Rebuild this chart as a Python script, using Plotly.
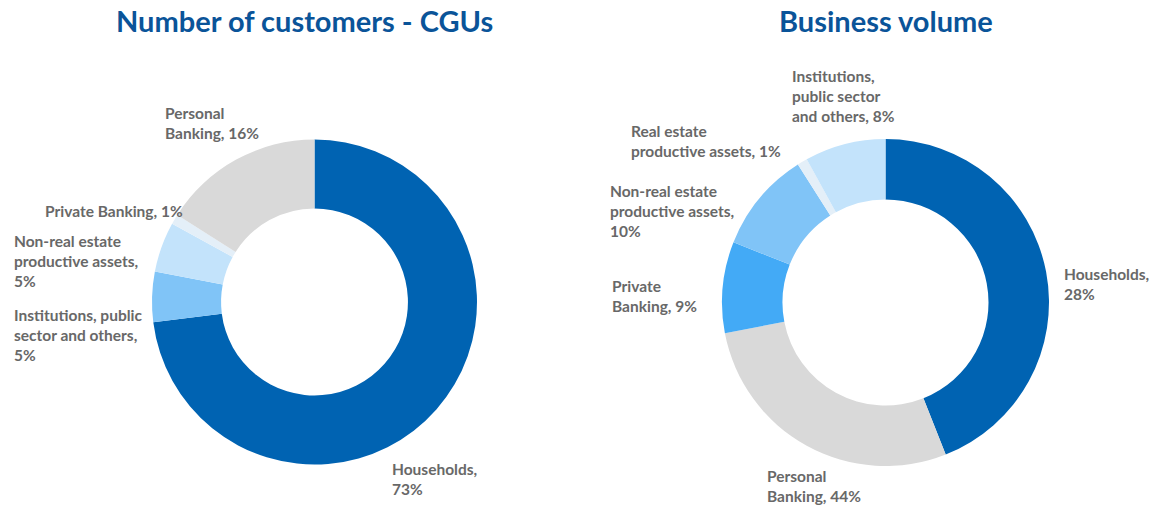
import plotly.graph_objects as go

# ---- Data ----
cust_labels = ["Households", "Institutions, public sector and others",
               "Non-real estate productive assets", "Private Banking", "Personal Banking"]
cust_values = [73, 5, 5, 1, 16]
cust_text = ["Households,<br>73%", "Institutions, public<br>sector and others,<br>5%",
             "Non-real estate<br>productive assets,<br>5%", "Private Banking, 1%",
             "Personal<br>Banking, 16%"]

vol_labels = ["Households", "Personal Banking", "Private Banking",
              "Non-real estate productive assets", "Real estate productive assets",
              "Institutions, public sector and others"]
vol_values = [44, 28, 9, 10, 1, 8]  # slice sizes as drawn
vol_text = ["Households,<br>28%", "Personal<br>Banking, 44%", "Private<br>Banking, 9%",
            "Non-real estate<br>productive assets,<br>10%", "Real estate<br>productive assets, 1%",
            "Institutions,<br>public sector<br>and others, 8%"]

titles = ["Number of customers - CGUs", "Business volume"]

# ---- Styles ----
cust_colors = ["#0063B2", "#80C4F7", "#C3E3FB", "#E4EFF8", "#D9D9D9"]
vol_colors = ["#0063B2", "#D9D9D9", "#43AAF6", "#80C4F7", "#E4EFF8", "#C3E3FB"]

FW, FH = 1156, 506


def px_x(x):
    return x / FW


def px_y(y):
    return 1 - y / FH


# label positions (page pixels: left x, center y)
cust_pos = [(390, 479), (12, 335), (12, 261), (43, 211), (163, 123)]
vol_pos = [(1062, 284), (765, 486), (610, 296), (608, 211), (629, 141), (790, 96)]

fig = go.Figure()
fig.add_trace(go.Pie(labels=cust_labels, values=cust_values, hole=0.575, sort=False,
                     direction="clockwise", rotation=0, textinfo="none",
                     marker=dict(colors=cust_colors, line=dict(width=0)),
                     domain=dict(x=[px_x(152), px_x(477)], y=[px_y(465), px_y(139)]),
                     showlegend=False))
fig.add_trace(go.Pie(labels=vol_labels, values=vol_values, hole=0.63, sort=False,
                     direction="clockwise", rotation=0, textinfo="none",
                     marker=dict(colors=vol_colors, line=dict(width=0)),
                     domain=dict(x=[px_x(722), px_x(1049)], y=[px_y(466), px_y(139)]),
                     showlegend=False))

annotations = []
for txt, (px, py) in list(zip(cust_text, cust_pos)) + list(zip(vol_text, vol_pos)):
    annotations.append(dict(text=txt, x=px_x(px), y=px_y(py), xref="paper", yref="paper",
                            xanchor="left", yanchor="middle", align="left", showarrow=False,
                            font=dict(family="Lato", size=15.5, color="#686868", weight="bold")))
for t, cx in zip(titles, [304, 886]):
    annotations.append(dict(text=t, x=px_x(cx), y=px_y(21), xref="paper", yref="paper",
                            xanchor="center", yanchor="middle", showarrow=False,
                            font=dict(family="Lato", size=29, color="#0A5499", weight="bold")))

fig.update_layout(width=FW, height=FH, margin=dict(l=0, r=0, t=0, b=0),
                  paper_bgcolor="white", plot_bgcolor="white", annotations=annotations)
fig.write_html("out.html", config={"displayModeBar": False},
               post_script="document.body.style.margin='0';document.body.style.overflow='hidden';")
